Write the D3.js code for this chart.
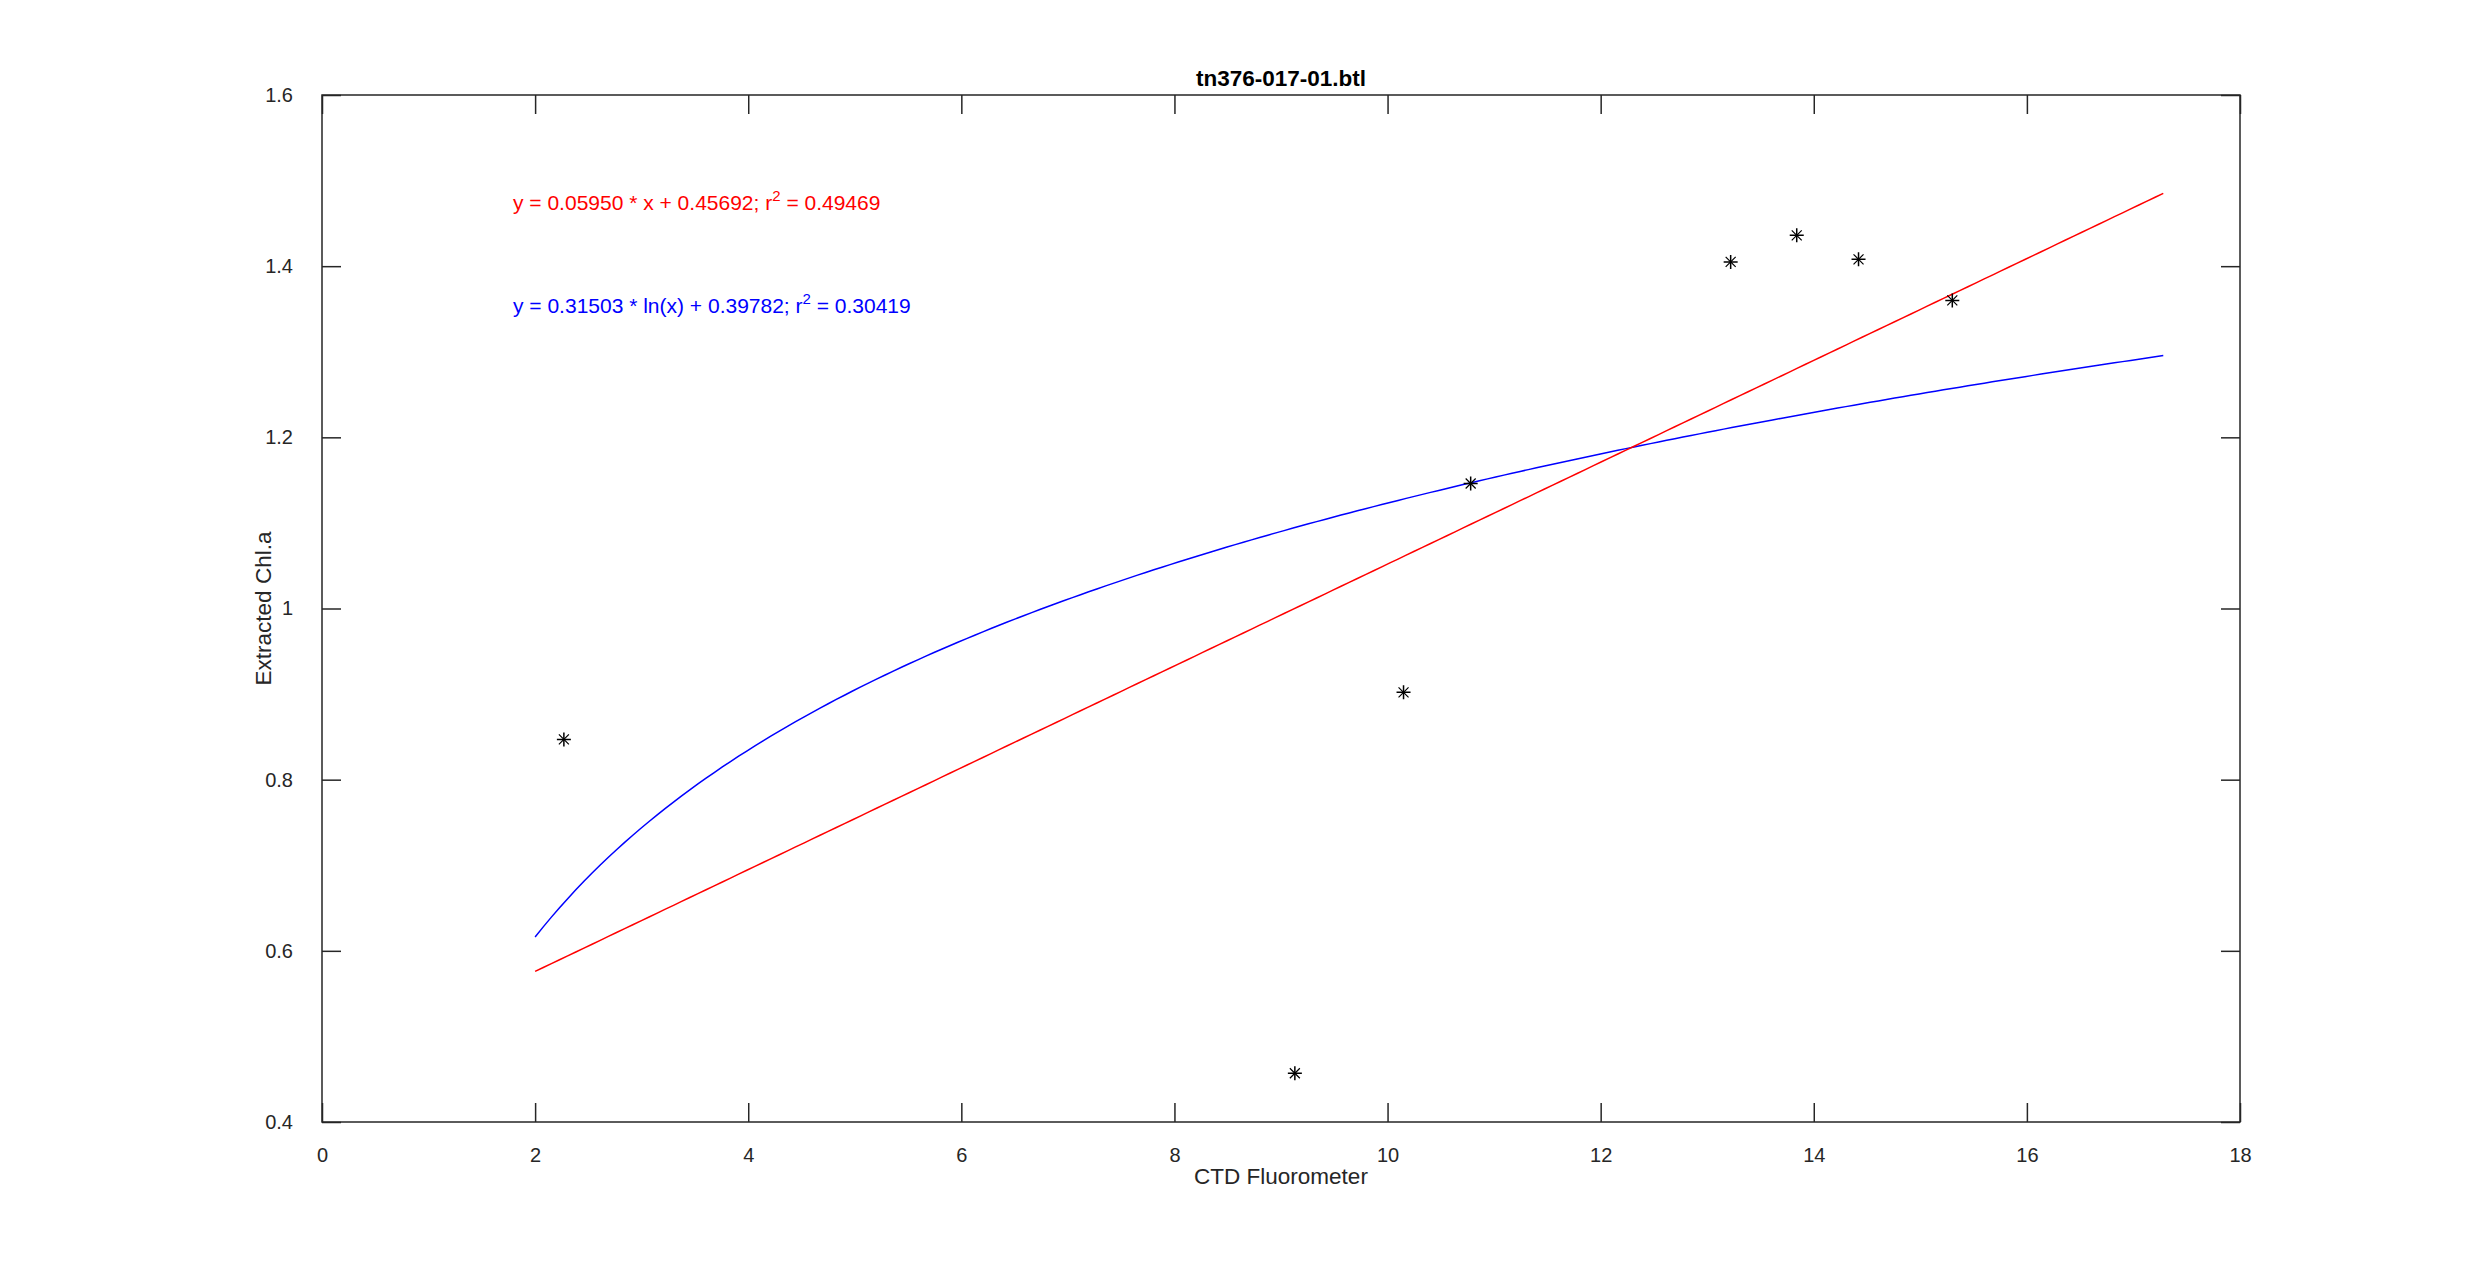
<!DOCTYPE html>
<html>
<head>
<meta charset="utf-8">
<script src="https://cdn.jsdelivr.net/npm/d3@7"></script>
<style>
  body { margin: 0; background: #fff; }
  text { font-family: "Liberation Sans", Arial, sans-serif; fill: #262626; }
</style>
</head>
<body>
<div id="chart"></div>
<script>
// bottle samples
var ctd_x = [2.27, 9.13, 10.15, 10.78, 13.22, 13.84, 14.42, 15.30];
var chl_y = [0.847, 0.457, 0.902, 1.146, 1.405, 1.436, 1.408, 1.360];

// fit coefficients, as printed on the chart
var lin_fit = [0.05950, 0.45692];
var log_fit = [0.31503, 0.39782];
var fit_range = [2.0, 17.28];

var x_ticks = [0, 2, 4, 6, 8, 10, 12, 14, 16, 18];
var y_ticks = [0.4, 0.6, 0.8, 1.0, 1.2, 1.4, 1.6];

var chart_width = 2475, chart_height = 1261;
var ax_left = 322, ax_right = 2240, ax_top = 95, ax_bottom = 1122;
var ink = '#262626';

var svg = d3.select('#chart')
	.append('svg')
	.attr('width', chart_width)
	.attr('height', chart_height);

var x_scale = d3.scaleLinear().domain([0, 18]).range([ax_left, ax_right]);
var y_scale = d3.scaleLinear().domain([0.4, 1.6]).range([ax_bottom, ax_top]);

// axes box + inward ticks on all four sides
function styleAxis(g) {
	g.select('.domain').remove();
	g.selectAll('.tick line').attr('stroke', ink).attr('stroke-width', 1.5);
	g.selectAll('.tick text').attr('font-size', 20).attr('fill', ink)
		.style('font-family', '"Liberation Sans", Arial, sans-serif');
}

svg.append('g')
	.attr('transform', 'translate(0,' + ax_bottom + ')')
	.call(d3.axisBottom(x_scale).tickValues(x_ticks).tickFormat(d3.format('d'))
		.tickSizeInner(-19).tickSizeOuter(0).tickPadding(26))
	.call(styleAxis);

svg.append('g')
	.attr('transform', 'translate(0,' + ax_top + ')')
	.call(d3.axisTop(x_scale).tickValues(x_ticks).tickFormat('')
		.tickSizeInner(-19).tickSizeOuter(0))
	.call(styleAxis);

svg.append('g')
	.attr('transform', 'translate(' + ax_left + ',0)')
	.call(d3.axisLeft(y_scale).tickValues(y_ticks).tickFormat(function(d){ return String(+d.toFixed(1)); })
		.tickSizeInner(-19).tickSizeOuter(0).tickPadding(29))
	.call(styleAxis);

svg.append('g')
	.attr('transform', 'translate(' + ax_right + ',0)')
	.call(d3.axisRight(y_scale).tickValues(y_ticks).tickFormat('')
		.tickSizeInner(-19).tickSizeOuter(0))
	.call(styleAxis);

svg.append('rect')
	.attr('x', ax_left).attr('y', ax_top)
	.attr('width', ax_right - ax_left).attr('height', ax_bottom - ax_top)
	.attr('fill', 'none').attr('stroke', ink).attr('stroke-width', 1.5);

// fitted curves
var fit_xs = d3.range(0, 201).map(function(i){
	return fit_range[0] + (fit_range[1] - fit_range[0]) * i / 200;
});

var line = d3.line()
	.x(function(d){ return x_scale(d[0]); })
	.y(function(d){ return y_scale(d[1]); });

svg.append('path')
	.datum(fit_xs.map(function(x){ return [x, log_fit[0] * Math.log(x) + log_fit[1]]; }))
	.attr('d', line)
	.attr('fill', 'none').attr('stroke', '#0000ff').attr('stroke-width', 1.5);

svg.append('path')
	.datum(fit_xs.map(function(x){ return [x, lin_fit[0] * x + lin_fit[1]]; }))
	.attr('d', line)
	.attr('fill', 'none').attr('stroke', '#ff0000').attr('stroke-width', 1.5);

// asterisk markers
var pts = svg.selectAll('g.pt')
	.data(ctd_x.map(function(x, i){ return [x, chl_y[i]]; }))
	.enter()
	.append('g')
	.attr('class', 'pt')
	.attr('transform', function(d){
		return 'translate(' + x_scale(d[0]) + ',' + y_scale(d[1]) + ')';
	});
pts.append('path')
	.attr('d', 'M-7,0H7M0,-7V7')
	.attr('stroke', '#000').attr('stroke-width', 1.5);
pts.append('path')
	.attr('d', 'M-5,-5L5,5M-5,5L5,-5')
	.attr('stroke', '#000').attr('stroke-width', 1.2);

// equations
var eq1 = svg.append('text').attr('x', 513).attr('y', 210)
	.attr('font-size', 21).style('fill', '#ff0000');
eq1.append('tspan').text('y = 0.05950 * x + 0.45692; r');
eq1.append('tspan').attr('font-size', 15).attr('dy', -9).text('2');
eq1.append('tspan').attr('dy', 9).text(' = 0.49469');

var eq2 = svg.append('text').attr('x', 513).attr('y', 313)
	.attr('font-size', 21).style('fill', '#0000ff');
eq2.append('tspan').text('y = 0.31503 * ln(x) + 0.39782; r');
eq2.append('tspan').attr('font-size', 15).attr('dy', -9).text('2');
eq2.append('tspan').attr('dy', 9).text(' = 0.30419');

// title and labels
svg.append('text')
	.attr('x', (ax_left + ax_right) / 2).attr('y', 86)
	.attr('text-anchor', 'middle')
	.attr('font-size', 22.5).attr('font-weight', 'bold')
	.style('fill', '#000')
	.text('tn376-017-01.btl');

svg.append('text')
	.attr('x', (ax_left + ax_right) / 2).attr('y', 1184)
	.attr('text-anchor', 'middle')
	.attr('font-size', 22.5)
	.text('CTD Fluorometer');

svg.append('text')
	.attr('transform', 'translate(271,' + ((ax_top + ax_bottom) / 2) + ') rotate(-90)')
	.attr('text-anchor', 'middle')
	.attr('font-size', 22.5)
	.text('Extracted Chl.a');
</script>
</body>
</html>
